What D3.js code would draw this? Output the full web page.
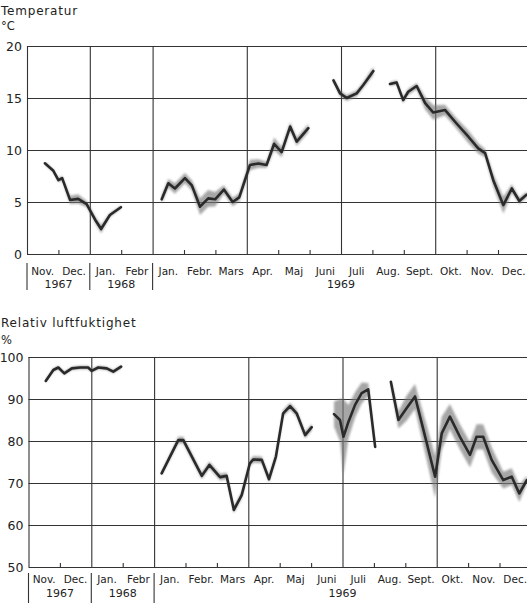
<!DOCTYPE html>
<html><head><meta charset="utf-8">
<script src="https://cdn.jsdelivr.net/npm/d3@7"></script>
<style>body{margin:0;background:#fff}svg{display:block}text{font-family:"DejaVu Sans",sans-serif;fill:#222}</style>
</head><body><svg id="c" width="527" height="605"></svg>
<script>
// month index: 0 = 1 Nov 1967; 4 = 1 Jan 1969 (axis break), 16 = 1 Jan 1970
const monthLabels = ["Nov.","Dec.","Jan.","Febr","Jan.","Febr.","Mars","Apr.","Maj","Juni","Juli","Aug.","Sept.","Okt.","Nov.","Dec."];
const yearLabels = ["1967","1968","1969"];
const yearPos = [1,3,10];
const gridMonths = [0,2,4,7,10,13,16];
const sepMonths = [0,2,4,16];
const tempTicks = [0,5,10,15,20];
const humTicks = [50,60,70,80,90,100];

const tempMonth = [0.57,0.84,1.0,1.12,1.37,1.63,1.9,2.17,2.36,2.64,2.99,null,
  4.29,4.5,4.71,5.03,5.25,5.51,5.77,5.99,6.27,6.55,6.76,7.1,7.37,7.63,7.87,8.11,8.38,8.59,8.96,null,
  9.76,9.97,10.18,10.5,10.71,11.03,null,
  11.56,11.77,11.98,12.14,12.41,12.68,12.94,13.31,13.68,14.05,14.37,14.59,14.85,15.17,15.44,15.68,15.91];
const tempValue = [8.72,8.0,7.1,7.3,5.2,5.3,4.8,3.3,2.4,3.75,4.5,null,
  5.26,6.8,6.3,7.3,6.6,4.55,5.35,5.26,6.2,5.0,5.45,8.56,8.7,8.56,10.6,9.8,12.25,10.8,12.1,null,
  16.7,15.45,15.0,15.45,16.25,17.6,null,
  16.35,16.5,14.8,15.6,16.15,14.5,13.6,13.85,12.55,11.3,10.16,9.7,7.1,4.7,6.3,5.1,5.7];
const tempSpread = [0.15,0.15,0.2,0.2,0.4,0.45,0.3,0.3,0.4,0.2,0.15,null,
  0.4,0.4,0.5,0.5,0.5,0.8,0.8,0.7,0.4,0.4,0.4,0.5,0.4,0.3,0.6,0.5,0.4,0.4,0.4,null,
  0.2,0.3,0.3,0.3,0.3,0.4,null,
  0.2,0.2,0.3,0.3,0.3,0.6,0.7,0.5,0.5,0.6,0.5,0.4,0.6,0.8,0.4,0.3,0.3];

const humMonth = [0.55,0.79,0.95,1.14,1.38,1.64,1.9,2.01,2.22,2.49,2.7,2.95,null,
  4.24,4.77,4.93,5.52,5.76,6.1,6.31,6.54,6.79,7.05,7.16,7.43,7.66,7.88,8.11,8.33,8.54,8.81,9.02,null,
  9.73,9.92,10.03,10.19,10.4,10.61,10.82,11.04,null,
  11.54,11.78,12.04,12.31,12.66,12.95,13.16,13.42,13.74,14.06,14.27,14.48,14.75,15.12,15.39,15.63,15.87];
const humValue = [94.3,96.9,97.5,96.1,97.3,97.5,97.5,96.7,97.5,97.3,96.5,97.7,null,
  72.3,80.2,80.2,71.7,74.3,71.4,71.7,63.6,67.1,74.7,75.6,75.5,70.9,76.3,86.6,88.3,86.6,81.4,83.3,null,
  86.4,85.0,81.0,84.6,88.6,91.4,92.3,78.6,null,
  94.1,85.0,87.8,90.6,80.2,71.5,81.8,85.8,81.0,76.7,81.0,81.0,75.5,70.7,71.5,67.5,70.7];
const humSpread = [0.4,0.4,0.4,0.4,0.4,0.4,0.4,0.4,0.4,0.4,0.4,0.4,null,
  0.5,0.8,0.8,0.8,0.8,0.8,0.8,0.8,0.8,0.8,0.8,0.8,0.8,0.8,0.8,0.8,0.8,0.8,0.8,null,
  3,5,9,4,3,2.5,1.5,0.5,null,
  0.5,2,3,3,4,5,4,3,3,3,3,3,3,2,2,2,1];

const svg = d3.select("#c");
const defs = svg.append("defs");
defs.append("filter").attr("id","blur").append("feGaussianBlur").attr("stdDeviation",1.2);

function panel(opt){
  const {x,y,ticks,months,values,spread,title,unit,titleY,unitY,lab1Y,lab2Y,sepTop,sepBot} = opt;
  const g = svg.append("g");
  const [x0,x1] = x.range();
  const [yb,yt] = y.range();
  const ya = g.append("g").attr("transform",`translate(${x0},0)`)
    .call(d3.axisLeft(y).tickValues(ticks).tickSizeInner(-(x1-x0)).tickSizeOuter(0).tickPadding(5).tickFormat(d3.format("d")));
  ya.select(".domain").remove();
  ya.selectAll("line").attr("stroke","#333").attr("stroke-width",1.1);
  ya.selectAll("text").attr("font-size",12.5).attr("fill","#222");
  const xa = g.append("g").attr("transform",`translate(0,${yb})`)
    .call(d3.axisBottom(x).tickValues(gridMonths).tickSizeInner(-(yb-yt)).tickSizeOuter(0).tickFormat(""));
  xa.select(".domain").attr("stroke","#333").attr("stroke-width",1.2);
  xa.selectAll("line").attr("stroke","#333").attr("stroke-width",1.1);
  const mt = d3.range(1,16).filter(m => !gridMonths.includes(m));
  const xm = g.append("g").attr("transform",`translate(0,${yb})`)
    .call(d3.axisBottom(x).tickValues(mt).tickSizeInner(-4).tickSizeOuter(0).tickFormat(""));
  xm.select(".domain").remove();
  xm.selectAll("line").attr("stroke","#333").attr("stroke-width",1.1);
  g.selectAll("line.sep").data(sepMonths).join("line").attr("class","sep")
    .attr("x1",d=>x(d)).attr("x2",d=>x(d)).attr("y1",sepTop).attr("y2",sepBot)
    .attr("stroke","#333").attr("stroke-width",1.1);
  g.selectAll("text.mon").data(monthLabels).join("text").attr("class","mon")
    .attr("x",(d,i)=>x(i+0.5)).attr("y",lab1Y).attr("text-anchor","middle")
    .attr("font-size",10.5).text(d=>d);
  g.selectAll("text.yr").data(yearLabels).join("text").attr("class","yr")
    .attr("x",(d,i)=>x(yearPos[i])).attr("y",lab2Y).attr("text-anchor","middle")
    .attr("font-size",11).text(d=>d);
  g.append("text").attr("x",1).attr("y",titleY).attr("font-size",12).attr("letter-spacing",0.8).text(title);
  g.append("text").attr("x",1).attr("y",unitY).attr("font-size",11.5).text(unit);
  const pts = months.map((m,i)=>({m, v:values[i], s:spread[i]}));
  const area = d3.area().defined(d=>d.v!=null).x(d=>x(d.m)).y0(d=>y(d.v-d.s)).y1(d=>y(d.v+d.s));
  g.append("path").attr("d",area(pts)).attr("fill","#777").attr("opacity",0.65).attr("filter","url(#blur)");
  const line = d3.line().defined(d=>d.v!=null).x(d=>x(d.m)).y(d=>y(d.v));
  g.append("path").attr("d",line(pts)).attr("fill","none").attr("stroke","#2a2a2a")
    .attr("stroke-width",2.6).attr("stroke-linejoin","round").attr("stroke-linecap","round");
}

panel({
  x: d3.scaleLinear().domain([0,16]).range([27,529.4]),
  y: d3.scaleLinear().domain([0,20]).range([254,46]),
  ticks: tempTicks, months: tempMonth, values: tempValue, spread: tempSpread,
  title: "Temperatur", unit: "°C", titleY: 15, unitY: 30, lab1Y: 275, lab2Y: 288, sepTop: 263, sepBot: 290
});
panel({
  x: d3.scaleLinear().domain([0,16]).range([28.5,530.9]),
  y: d3.scaleLinear().domain([50,100]).range([567,357]),
  ticks: humTicks, months: humMonth, values: humValue, spread: humSpread,
  title: "Relativ luftfuktighet", unit: "%", titleY: 327, unitY: 344, lab1Y: 583, lab2Y: 597, sepTop: 573, sepBot: 603
});
</script></body></html>
